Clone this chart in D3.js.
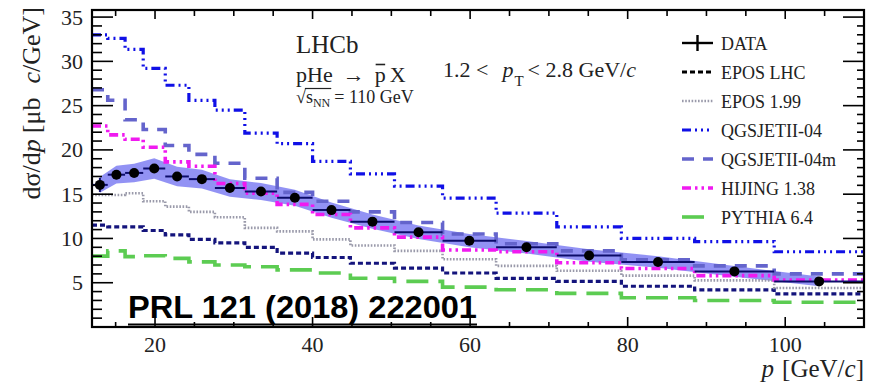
<!DOCTYPE html>
<html>
<head>
<meta charset="utf-8">
<script src="https://cdn.jsdelivr.net/npm/d3@7"></script>
<style>
  html, body { margin: 0; padding: 0; background: #fff; }
  svg { display: block; }
</style>
</head>
<body>
<svg id="chart" width="875" height="386"></svg>
<script>
// Momentum bin edges [GeV/c]
const binEdges = [12, 14, 16.2, 18.5, 21.3, 24.3, 27.6, 31.4, 35.5, 40, 44.8, 50.4, 56.5, 63.3, 71, 79.2, 88.5, 98.6, 110];

// Measured cross-section per bin [μb c/GeV]
const dataValues  = [16.05, 17.2, 17.4, 17.9, 17.0, 16.7, 15.7, 15.3, 14.6, 13.2, 11.9, 10.7, 9.75, 9.0, 8.08, 7.35, 6.28, 5.15];
const dataStatErr = [0.8, 0.5, 0.4, 0.4, 0.35, 0.35, 0.3, 0.3, 0.3, 0.25, 0.25, 0.2, 0.2, 0.2, 0.2, 0.15, 0.15, 0.15];
const dataSysErr  = [0.9, 1.0, 1.05, 1.15, 1.1, 1.05, 1.0, 0.95, 0.9, 0.85, 0.8, 0.75, 0.75, 0.7, 0.7, 0.65, 0.6, 0.55];

// Generator predictions per bin
const eposLhc   = [11.5, 11.3, 11.3, 10.9, 10.4, 9.9, 9.5, 9.0, 8.35, 7.85, 7.2, 6.65, 6.1, 5.5, 5.15, 4.6, 4.2, 3.75];
const epos199   = [14.9, 14.9, 15.1, 14.2, 13.6, 13.0, 12.4, 11.2, 10.8, 9.9, 9.2, 8.6, 7.65, 6.9, 6.35, 5.8, 5.26, 4.4];
const qgsjet04  = [33.0, 32.6, 31.35, 29.2, 27.3, 25.6, 24.5, 21.9, 20.7, 18.7, 17.3, 15.9, 14.55, 12.85, 11.3, 10.0, 9.65, 8.5];
const qgsjet04m = [26.8, 25.6, 23.4, 22.3, 20.5, 19.5, 18.5, 16.8, 15.2, 14.2, 13.0, 11.8, 10.5, 9.4, 8.6, 7.6, 6.9, 6.0];
const hijing    = [22.7, 21.7, 21.2, 20.3, 18.65, 18.15, 16.2, 15.1, 13.85, 12.7, 11.2, 10.15, 8.7, 8.5, 7.25, 6.6, 5.8, 5.3];
const pythia    = [8.0, 8.6, 7.95, 8.05, 7.75, 7.35, 7.0, 6.8, 6.45, 6.1, 5.5, 5.15, 4.5, 4.2, 3.8, 3.3, 3.0, 2.8];

// Axis ticks
const xMajorTicks = [20, 40, 60, 80, 100];
const yMajorTicks = [5, 10, 15, 20, 25, 30, 35];

const legendLabels = ["DATA", "EPOS LHC", "EPOS 1.99", "QGSJETII-04", "QGSJETII-04m", "HIJING 1.38", "PYTHIA 6.4"];

const models = [
  { name: "EPOS LHC",     values: eposLhc,   color: "#14147c", width: 3.2, dash: "5,3" },
  { name: "EPOS 1.99",    values: epos199,   color: "#9a9aaa", width: 2.6, dash: "1.6,1.6" },
  { name: "QGSJETII-04",  values: qgsjet04,  color: "#1010e6", width: 3.2, dash: "9,4,2,4,2,4,2,4" },
  { name: "QGSJETII-04m", values: qgsjet04m, color: "#6464cc", width: 3.6, dash: "12,9" },
  { name: "HIJING 1.38",  values: hijing,    color: "#f01af0", width: 3.6, dash: "9,4,2.5,4,2.5,4" },
  { name: "PYTHIA 6.4",   values: pythia,    color: "#5ccc52", width: 3.6, dash: "22,10" }
];

const W = 875, H = 386;
const frame = { left: 92, right: 864, top: 10, bottom: 327 };
const serif = "'Liberation Serif', 'Times New Roman', serif";

const svg = d3.select("#chart");
const x = d3.scaleLinear().domain([12, 110]).range([frame.left, frame.right]);
const y = d3.scaleLinear().domain([0, 35.8]).range([frame.bottom, frame.top]);

const centers = binEdges.slice(0, -1).map((e, i) => (e + binEdges[i + 1]) / 2);

// Clip for plot contents
svg.append("clipPath").attr("id", "plotClip")
  .append("rect").attr("x", frame.left).attr("y", frame.top)
  .attr("width", frame.right - frame.left).attr("height", frame.bottom - frame.top);

const plot = svg.append("g").attr("clip-path", "url(#plotClip)");

// Systematic uncertainty band
const band = d3.area()
  .x((d, i) => x(centers[i]))
  .y0((d, i) => y(d - dataSysErr[i]))
  .y1((d, i) => y(d + dataSysErr[i]));
plot.append("path").datum(dataValues)
  .attr("d", band)
  .attr("fill", "#7f7ff2")
  .attr("fill-opacity", 0.85);

// Model histograms as step lines
const stepLine = d3.line().curve(d3.curveStepAfter)
  .x(d => x(d[0])).y(d => y(d[1]));
models.forEach(m => {
  const pts = binEdges.map((e, i) => [e, m.values[Math.min(i, m.values.length - 1)]]);
  plot.append("path").datum(pts)
    .attr("d", stepLine)
    .attr("fill", "none")
    .attr("stroke", m.color)
    .attr("stroke-width", m.width)
    .attr("stroke-dasharray", m.dash);
});

// Data: horizontal bin widths, stat errors, markers
const dataG = plot.append("g");
dataValues.forEach((v, i) => {
  dataG.append("line")
    .attr("x1", x(binEdges[i])).attr("x2", x(binEdges[i + 1]))
    .attr("y1", y(v)).attr("y2", y(v))
    .attr("stroke", "#0c0c6a").attr("stroke-width", 2);
  dataG.append("line")
    .attr("x1", x(centers[i])).attr("x2", x(centers[i]))
    .attr("y1", y(v - dataStatErr[i])).attr("y2", y(v + dataStatErr[i]))
    .attr("stroke", "#0c0c6a").attr("stroke-width", 2);
});
dataG.selectAll("circle").data(dataValues).join("circle")
  .attr("cx", (d, i) => x(centers[i]))
  .attr("cy", d => y(d))
  .attr("r", 5)
  .attr("fill", "#000");

// Axes with inward ticks on all four sides
const axisG = svg.append("g").attr("stroke", "#000");
const xMinor = d3.range(15, 111, 5).filter(v => !xMajorTicks.includes(v));
const yMinor = d3.range(1, 36, 1).filter(v => !yMajorTicks.includes(v));

function tickLines(vals, len, side) {
  vals.forEach(v => {
    if (side === "bottom") axisG.append("line").attr("x1", x(v)).attr("x2", x(v)).attr("y1", frame.bottom).attr("y2", frame.bottom - len);
    if (side === "top") axisG.append("line").attr("x1", x(v)).attr("x2", x(v)).attr("y1", frame.top).attr("y2", frame.top + len);
    if (side === "left") axisG.append("line").attr("y1", y(v)).attr("y2", y(v)).attr("x1", frame.left).attr("x2", frame.left + len);
    if (side === "right") axisG.append("line").attr("y1", y(v)).attr("y2", y(v)).attr("x1", frame.right).attr("x2", frame.right - len);
  });
}
tickLines(xMajorTicks, 10, "bottom");
tickLines(xMinor, 5, "bottom");
tickLines(xMajorTicks, 9, "top");
tickLines(xMinor, 6, "top");
tickLines(yMajorTicks, 21, "left");
tickLines(yMinor, 10, "left");
tickLines(yMajorTicks, 21, "right");
tickLines(yMinor, 7, "right");
axisG.selectAll("line").attr("stroke-width", 1.6);

svg.append("rect")
  .attr("x", frame.left).attr("y", frame.top)
  .attr("width", frame.right - frame.left).attr("height", frame.bottom - frame.top)
  .attr("fill", "none").attr("stroke", "#000").attr("stroke-width", 2.2);

// Tick labels
svg.append("g").selectAll("text").data(xMajorTicks).join("text")
  .attr("x", d => x(d)).attr("y", 352)
  .attr("text-anchor", "middle")
  .attr("font-family", serif).attr("font-size", 22).attr("fill", "#222")
  .text(d => d);
svg.append("g").selectAll("text").data(yMajorTicks).join("text")
  .attr("x", 83).attr("y", d => y(d) + 7.5)
  .attr("text-anchor", "end")
  .attr("font-family", serif).attr("font-size", 22).attr("fill", "#222")
  .text(d => d);

// Axis titles
const xt = svg.append("text")
  .attr("x", frame.right).attr("y", 377)
  .attr("text-anchor", "end")
  .attr("font-family", serif).attr("font-size", 25).attr("fill", "#222");
xt.append("tspan").attr("font-style", "italic").text("p");
xt.append("tspan").attr("dx", 8).text("[GeV/");
xt.append("tspan").attr("font-style", "italic").text("c");
xt.append("tspan").text("]");

const yt = svg.append("text")
  .attr("transform", "translate(40,7) rotate(-90)")
  .attr("text-anchor", "end")
  .attr("font-family", serif).attr("font-size", 26).attr("fill", "#222");
yt.append("tspan").text("dσ/d");
yt.append("tspan").attr("font-style", "italic").text("p");
yt.append("tspan").attr("dx", 6).text("[μb");
yt.append("tspan").attr("dx", 14).attr("font-style", "italic").text("c");
yt.append("tspan").text("/GeV]");

// Experiment / process labels
svg.append("text").attr("x", 296).attr("y", 53)
  .attr("font-family", serif).attr("font-size", 25).attr("fill", "#222")
  .text("LHCb");

const proc = svg.append("text").attr("x", 296).attr("y", 82)
  .attr("font-family", serif).attr("font-size", 22).attr("fill", "#222");
proc.append("tspan").text("pHe");
proc.append("tspan").attr("dx", 10).text("→");
proc.append("tspan").attr("dx", 10).text("p");
proc.append("tspan").attr("dx", 4).text("X");
{
  const node = proc.node();
  const idx = "pHe→".length;
  const ext = node.getExtentOfChar(idx);
  svg.append("line")
    .attr("x1", ext.x + 1).attr("x2", ext.x + ext.width - 0.5)
    .attr("y1", 64.5).attr("y2", 64.5)
    .attr("stroke", "#222").attr("stroke-width", 1.6);
}

const rs = svg.append("text").attr("x", 296).attr("y", 103)
  .attr("font-family", serif).attr("font-size", 18).attr("fill", "#222");
rs.append("tspan").text("√");
rs.append("tspan").text("s");
rs.append("tspan").attr("font-size", 12).attr("dy", 4).text("NN");
rs.append("tspan").attr("dy", -4).attr("dx", 4).text("= 110 GeV");
{
  const node = rs.node();
  const r0 = node.getExtentOfChar(0);
  const nn = node.getExtentOfChar(3);
  svg.append("line")
    .attr("x1", r0.x + r0.width - 1).attr("x2", nn.x + nn.width + 1)
    .attr("y1", r0.y + 1.5).attr("y2", r0.y + 1.5)
    .attr("stroke", "#222").attr("stroke-width", 1.2);
}

const kin = svg.append("text").attr("x", 443).attr("y", 77)
  .attr("font-family", serif).attr("font-size", 22).attr("fill", "#222");
kin.append("tspan").text("1.2 <");
kin.append("tspan").attr("dx", 14).attr("font-style", "italic").text("p");
kin.append("tspan").attr("font-size", 15).attr("dy", 9).attr("dx", 1).text("T");
kin.append("tspan").attr("dy", -9).attr("dx", 4).text("< 2.8 GeV/");
kin.append("tspan").attr("font-style", "italic").text("c");

// Legend
const legend = svg.append("g");
const legY0 = 43, legStep = 29, sx0 = 682, sx1 = 713;
legendLabels.forEach((lab, i) => {
  const ly = legY0 + i * legStep;
  if (i === 0) {
    legend.append("line").attr("x1", sx0).attr("x2", sx1).attr("y1", ly).attr("y2", ly)
      .attr("stroke", "#000").attr("stroke-width", 2.4);
    legend.append("line").attr("x1", (sx0 + sx1) / 2).attr("x2", (sx0 + sx1) / 2).attr("y1", ly - 8).attr("y2", ly + 8)
      .attr("stroke", "#000").attr("stroke-width", 2.4);
  } else {
    const m = models[i - 1];
    legend.append("line").attr("x1", sx0).attr("x2", sx1).attr("y1", ly).attr("y2", ly)
      .attr("stroke", i === 1 ? "#000" : m.color)
      .attr("stroke-width", m.width)
      .attr("stroke-dasharray", m.dash);
  }
  legend.append("text").attr("x", 721).attr("y", ly + 6.5)
    .attr("font-family", serif).attr("font-size", 18).attr("fill", "#222")
    .text(lab);
});

// Publication reference
svg.append("text").attr("x", 128).attr("y", 318)
  .attr("font-family", "'Liberation Sans', Arial, sans-serif")
  .attr("font-weight", "bold").attr("font-size", 31).attr("fill", "#000")
  .attr("textLength", 349).attr("lengthAdjust", "spacingAndGlyphs")
  .text("PRL 121 (2018) 222001");
svg.append("line").attr("x1", 128).attr("x2", 477).attr("y1", 324.5).attr("y2", 324.5)
  .attr("stroke", "#000").attr("stroke-width", 2);
</script>
</body>
</html>
